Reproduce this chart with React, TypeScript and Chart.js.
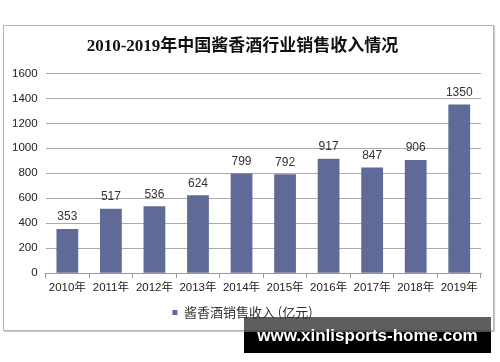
import React, { useEffect, useRef } from "react";
import { Chart, registerables } from "chart.js";

Chart.register(...registerables);

const TITLE = "2010-2019年中国酱香酒行业销售收入情况";
const CATEGORIES = ["2010年", "2011年", "2012年", "2013年", "2014年", "2015年", "2016年", "2017年", "2018年", "2019年"];
const SERIES_NAME = "酱香酒销售收入 (亿元)";
const VALUES = [353, 517, 536, 624, 799, 792, 917, 847, 906, 1350];
const WATERMARK = "www.xinlisports-home.com";

const valueLabels = {
  id: "valueLabels",
  afterDatasetsDraw(chart: any) {
    const ctx = chart.ctx;
    const meta = chart.getDatasetMeta(0);
    ctx.save();
    ctx.font = '12px "Liberation Sans", Arial, sans-serif';
    ctx.fillStyle = "#333";
    ctx.textAlign = "center";
    ctx.textBaseline = "bottom";
    meta.data.forEach((bar: any, i: number) => {
      ctx.fillText(String(chart.data.datasets[0].data[i]), bar.x, bar.y - 6);
    });
    ctx.restore();
  },
};

export default function App() {
  const ref = useRef<HTMLCanvasElement | null>(null);
  useEffect(() => {
    if (!ref.current) return;
    const chart = new Chart(ref.current, {
      type: "bar",
      data: {
        labels: CATEGORIES,
        datasets: [
          {
            label: SERIES_NAME,
            data: VALUES,
            backgroundColor: "#5f6a99",
            barPercentage: 0.5,
            categoryPercentage: 1,
          },
        ],
      },
      options: {
        animation: false,
        responsive: false,
        maintainAspectRatio: false,
        layout: { padding: { left: 0, right: 12, top: 0, bottom: 1 } },
        plugins: {
          title: {
            display: true,
            text: TITLE,
            color: "#111",
            font: { family: '"Liberation Serif", "Noto Sans CJK SC", serif', size: 17, weight: "bold" },
            padding: { top: 10, bottom: 17 },
          },
          legend: {
            display: true,
            position: "bottom",
            labels: {
              boxWidth: 5,
              boxHeight: 5,
              color: "#333",
              padding: 8,
              font: { family: '"Noto Sans CJK SC", sans-serif', size: 13 },
            },
          },
          tooltip: { enabled: false },
        },
        scales: {
          x: {
            grid: { offset: true, drawOnChartArea: false, drawTicks: true, tickLength: 5, color: "#999" },
            border: { display: true, color: "#999" },
            ticks: {
              color: "#222",
              padding: 3,
              font: { family: '"Liberation Sans", "Noto Sans CJK SC", sans-serif', size: 11.5 },
              maxRotation: 0,
            },
          },
          y: {
            min: 0,
            max: 1600,
            ticks: {
              stepSize: 200,
              color: "#222",
              padding: 8,
              font: { family: '"Liberation Sans", Arial, sans-serif', size: 11.5 },
              callback: (v: any) => String(v),
            },
            grid: { color: "#aaa", drawTicks: false },
            border: { display: false },
          },
        },
      },
      plugins: [valueLabels],
    });
    return () => chart.destroy();
  }, []);

  return (
    <div style={{ position: "absolute", left: 0, top: 0, width: 500, height: 362, background: "#fff", overflow: "hidden" }}>
      <div
        style={{
          position: "absolute",
          left: 3,
          top: 25,
          width: 489,
          height: 304,
          border: "1px solid #b5b5b5",
          boxShadow: "1px 1px 1px #ccc",
          background: "#fff",
        }}
      >
        <canvas ref={ref} width={489} height={304} style={{ display: "block" }} />
      </div>
      <div
        style={{
          position: "absolute",
          left: 244,
          top: 317,
          width: 247,
          height: 36,
          background: "linear-gradient(rgba(40,40,40,0.75) 0px, rgba(40,40,40,0.75) 15px, #000 15px, #000 36px)",
          color: "#fff",
          fontFamily: '"Liberation Sans", Arial, sans-serif',
          fontWeight: "bold",
          fontSize: 17,
          lineHeight: "38px",
          textAlign: "center",
          whiteSpace: "nowrap",
        }}
      >
        {WATERMARK}
      </div>
    </div>
  );
}
